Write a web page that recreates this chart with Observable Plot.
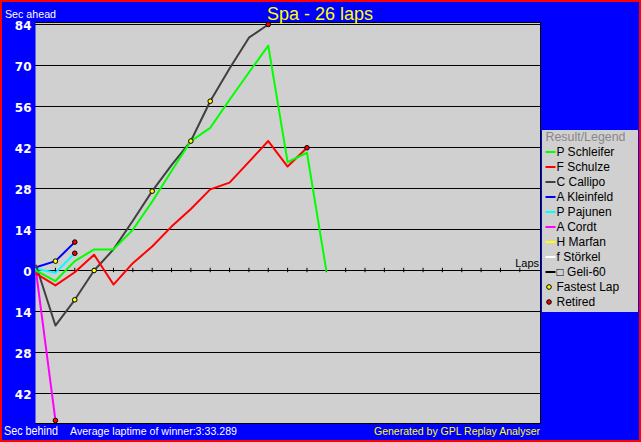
<!DOCTYPE html>
<html><head><meta charset="utf-8">
<script src="https://cdn.jsdelivr.net/npm/d3@7"></script>
<script src="https://cdn.jsdelivr.net/npm/@observablehq/plot@0.6"></script>
<style>
html,body{margin:0;padding:0;background:#0000ff;}
#wrap{position:relative;width:641px;height:442px;overflow:hidden;}
#bg{position:absolute;left:0;top:0;width:641px;height:442px;box-sizing:border-box;border:2px solid #ff0000;background:#0000ff;}
#chart{position:absolute;left:0;top:0;}
</style></head><body>
<div id="wrap"><div id="bg"></div><div id="chart"></div></div>
<script>
// ---- data ----
const title = "Spa - 26 laps";
const totalLaps = 26;
const drivers = ["P Schleifer","F Schulze","C Callipo","A Kleinfeld","P Pajunen","A Cordt","H Marfan","f Störkel","\u25A1 Geli-60"];
const driverColors = ["#00ff00","#ff0000","#404040","#0000ff","#00ffff","#ff00ff","#ffff00","#ffffff","#000000"];
// seconds ahead (+) / behind (-) per lap, starting at lap 0
const gapSchleifer = [0, -3.6, 3.2, 7.2, 7.2, 13.9, 23.5, 34, 44.2, 48.7, 58.3, 67.6, 76.8, 37, 40.2, 0];
const gapSchulze   = [-1.1, -5.1, -0.6, 5.4, -4.8, 2.5, 8.2, 15, 21, 27.7, 30, 37.1, 44.2, 35.5, 41.9];
const gapCallipo   = [1.7, -18.8, -10, 0, 7.2, 17, 27.1, 36, 44.2, 57.8, 69, 79.5, 84];
const gapKleinfeld = [1.1, 3.2, 9.7];
const gapPajunen   = [0.6, -0.8, 5.9];
const gapCordt     = [-0.5, -51.2];
const gapMarfan    = [];
const gapStorkel   = [];
const gapGeli      = [];
const fastestLapDriver = ["A Kleinfeld","C Callipo","C Callipo","C Callipo","C Callipo","C Callipo"];
const fastestLapLap    = [1, 2, 3, 6, 8, 9];
const retiredDriver = ["A Cordt","A Kleinfeld","P Pajunen","C Callipo","F Schulze"];
const retiredLap    = [1, 2, 2, 12, 14];
const yTicks = [84, 70, 56, 42, 28, 14, 0, -14, -28, -42];
const yTopLabel = "Sec ahead";
const yBottomLabel = "Sec behind";
const xLabel = "Laps";
const footer = "Average laptime of winner:3:33.289";
const credit = "Generated by GPL Replay Analyser";
const legendTitle = "Result/Legend";
const legendExtra = ["Fastest Lap", "Retired"];

// ---- build ----
const gaps = [gapSchleifer, gapSchulze, gapCallipo, gapKleinfeld, gapPajunen, gapCordt, gapMarfan, gapStorkel, gapGeli];
const series = drivers.map((name, i) => ({name, color: driverColors[i], rows: gaps[i].map((g, lap) => ({lap, gap: g}))}));
const byName = new Map(series.map(s => [s.name, s]));
const fastest = fastestLapDriver.map((d, i) => ({lap: fastestLapLap[i], gap: byName.get(d).rows[fastestLapLap[i]].gap}));
const retired = retiredDriver.map((d, i) => ({lap: retiredLap[i], gap: byName.get(d).rows[retiredLap[i]].gap}));
const lapTicks = d3.range(1, totalLaps);

const W = 641, H = 442, mL = 35, mR = 101, mT = 22, mB = 19;
const plotBg = "#d0d0d0";

const lineMarks = series.slice().reverse().filter(s => s.rows.length).map(s =>
  Plot.line(s.rows, {x: "lap", y: "gap", stroke: s.color, strokeWidth: 2}));

const svg = Plot.plot({
  width: W, height: H,
  marginLeft: mL, marginRight: mR, marginTop: mT, marginBottom: mB,
  style: {background: "transparent", color: "white", fontFamily: "'Liberation Sans', Arial, sans-serif"},
  x: {domain: [-0.03, totalLaps + 0.07], axis: null},
  y: {domain: [-52.24, 84.68], axis: null},
  marks: [
    Plot.frame({fill: plotBg, stroke: null}),
    Plot.ruleY(yTicks, {stroke: "black", strokeWidth: 1}),
    Plot.ruleX(lapTicks, {x: d => d, y1: -0.75, y2: 0.75, stroke: "black", strokeWidth: 1}),
    Plot.axisY({ticks: yTicks, tickFormat: d => String(Math.abs(d)), tickSize: 0, tickPadding: 4, label: null,
      fill: "white", fontWeight: "bold", fontSize: 12, fontFamily: "'DejaVu Sans', sans-serif", dy: 1.5}),
    Plot.frame({anchor: "top", stroke: "black"}),
    Plot.frame({anchor: "right", stroke: "black"}),
    Plot.frame({anchor: "bottom", stroke: "black"}),
    ...lineMarks,
    Plot.dot(fastest, {x: "lap", y: "gap", r: 2.3, fill: "#ffff00", stroke: "black", strokeWidth: 1}),
    Plot.dot(retired, {x: "lap", y: "gap", r: 2.3, fill: "#ff0000", stroke: "black", strokeWidth: 1})
  ]
});
document.getElementById("chart").appendChild(svg);

const s = d3.select(svg);
const font = "'Liberation Sans', Arial, sans-serif";
function txt(parent, x, y, str, opts = {}) {
  const t = parent.append("text").attr("x", x).attr("y", y).text(str)
    .attr("font-family", font).attr("font-size", opts.size || 11)
    .attr("fill", opts.fill || "white").attr("text-anchor", opts.anchor || "start");
  if (opts.len) t.attr("textLength", opts.len).attr("lengthAdjust", "spacingAndGlyphs");
  return t;
}
txt(s, 320, 20, title, {size: 18, fill: "#ffff00", anchor: "middle"});
txt(s, 5, 18, yTopLabel, {size: 10.5, len: 51});
txt(s, 4, 435, yBottomLabel, {size: 12, len: 54});
txt(s, 70, 435, footer, {size: 11.5, len: 167});
txt(s, 374, 435, credit, {size: 11.5, fill: "#ffff00", len: 166});
txt(s, 539, 267, xLabel, {fill: "black", anchor: "end"});

// legend
const lg = s.append("g");
lg.append("rect").attr("x", 542).attr("y", 130).attr("width", 96).attr("height", 182).attr("fill", plotBg);
txt(lg, 545.5, 141, legendTitle, {size: 12, fill: "#888888", len: 80});
series.forEach((sr, i) => {
  const base = 156 + 15 * i;
  lg.append("line").attr("x1", 545.5).attr("x2", 555.5).attr("y1", base - 4).attr("y2", base - 4)
    .attr("stroke", sr.color).attr("stroke-width", 2);
  txt(lg, 556.5, base, sr.name, {size: 12, fill: "black"});
});
const extraColors = ["#ffff00", "#ff0000"];
legendExtra.forEach((name, j) => {
  const base = 156 + 15 * (series.length + j);
  lg.append("circle").attr("cx", 549).attr("cy", base - 4).attr("r", 2.3)
    .attr("fill", extraColors[j]).attr("stroke", "black").attr("stroke-width", 1);
  txt(lg, 556.5, base, name, {size: 12, fill: "black"});
});
</script>
</body></html>
